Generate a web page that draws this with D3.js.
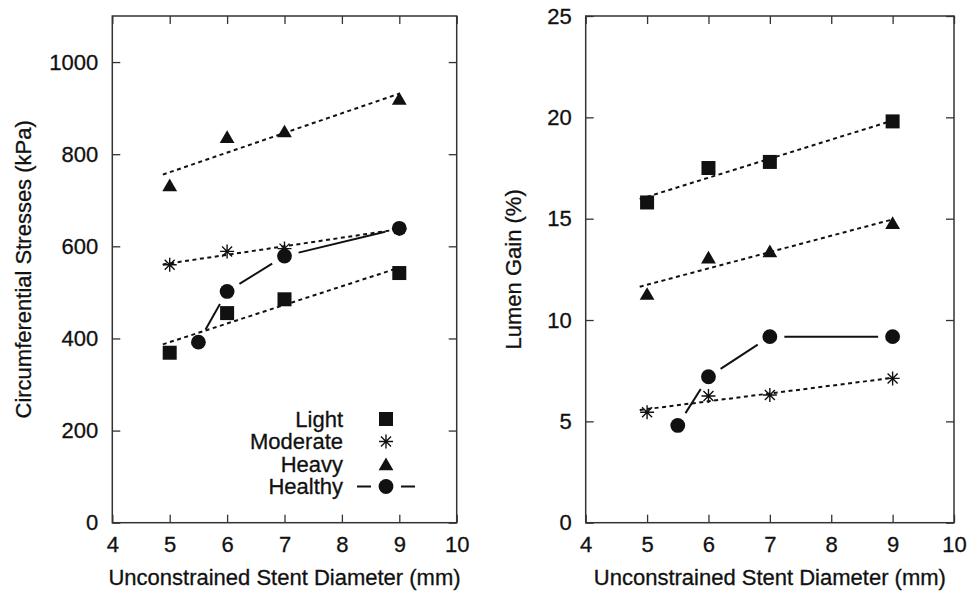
<!DOCTYPE html>
<html>
<head>
<meta charset="utf-8">
<script src="https://cdn.jsdelivr.net/npm/d3@7"></script>
<style>
  body { margin: 0; background: white; }
  svg { display: block; font-family: "Liberation Sans", Arial, Helvetica, sans-serif; }
  text { stroke: #111; stroke-width: 0.3px; }
</style>
</head>
<body>
<svg id="chart"></svg>
<script>
// stent diameters (mm)
var diameters = [5, 6, 7, 9];
var healthyDiameters = [5.5, 6, 7, 9];
var xTicks = [4, 5, 6, 7, 8, 9, 10];

// left panel: circumferential stresses (kPa)
var stressLight = [369, 455, 485, 542];
var stressModerate = [560, 589, 595, 638];
var stressHeavy = [733, 838, 850, 921];
var stressHealthy = [392, 502, 579, 639];
var stressTicks = [0, 200, 400, 600, 800, 1000];

// right panel: lumen gain (%)
var gainLight = [15.8, 17.5, 17.8, 19.8];
var gainModerate = [5.45, 6.25, 6.3, 7.12];
var gainHeavy = [11.3, 13.1, 13.4, 14.8];
var gainHealthy = [4.8, 7.2, 9.18, 9.18];
var gainTicks = [0, 5, 10, 15, 20, 25];

var legendLabels = ["Light", "Moderate", "Heavy", "Healthy"];

const width = 971, height = 593;
const ink = "#111";

var svg = d3.select("#chart")
  .attr("width", width)
  .attr("height", height)
  .attr("viewBox", [0, 0, width, height]);

// marker shapes, all drawn around (0,0)
function drawMarker(g, type) {
  if (type == "Light") {
    g.append("rect").attr("x", -7).attr("y", -7).attr("width", 14).attr("height", 14).attr("fill", ink);
  } else if (type == "Heavy") {
    g.append("path").attr("d", "M0,-6.5L7.4,6.2L-7.4,6.2Z").attr("fill", ink);
  } else if (type == "Healthy") {
    g.append("circle").attr("r", 7.4).attr("fill", ink);
  } else {
    g.append("path")
      .attr("d", "M-7,0H7M0,-7V7M-5,-5L5,5M-5,5L5,-5")
      .attr("stroke", ink)
      .attr("stroke-width", 1.4)
      .attr("fill", "none");
  }
}

function fitLine(xv, yv) {
  var mx = d3.mean(xv), my = d3.mean(yv);
  var sxy = d3.sum(xv, (x, i) => (x - mx) * (yv[i] - my));
  var sxx = d3.sum(xv, x => (x - mx) * (x - mx));
  var slope = sxy / sxx;
  return x => my + slope * (x - mx);
}

function panel(opts) {
  var x = d3.scaleLinear().domain([4, 10]).range([opts.left, opts.right]);
  var y = d3.scaleLinear().domain([0, opts.ymax]).range([opts.bottom, opts.top]);
  var g = svg.append("g");

  // tick labels and inward ticks on all four sides
  var axes = [
    [d3.axisBottom(x).tickValues(xTicks), "translate(0," + opts.bottom + ")", true],
    [d3.axisTop(x).tickValues(xTicks), "translate(0," + opts.top + ")", false],
    [d3.axisLeft(y).tickValues(opts.yTicks), "translate(" + opts.left + ",0)", true],
    [d3.axisRight(y).tickValues(opts.yTicks), "translate(" + opts.right + ",0)", false]
  ];
  axes.forEach(function([axis, tr, labels]) {
    var a = g.append("g")
      .attr("transform", tr)
      .call(axis.tickSizeInner(-8).tickSizeOuter(0).tickPadding(labels ? 14 : 0));
    a.select(".domain").remove();
    a.selectAll("line").attr("stroke", "#333").attr("stroke-width", 1.3);
    a.selectAll("text")
      .attr("fill", ink)
      .style("font-size", "22px")
      .text(labels ? (d => d) : "");
  });

  g.append("rect")
    .attr("x", opts.left).attr("y", opts.top)
    .attr("width", opts.right - opts.left).attr("height", opts.bottom - opts.top)
    .attr("fill", "none").attr("stroke", "#333").attr("stroke-width", 1.5);

  g.append("text")
    .attr("x", (opts.left + opts.right) / 2)
    .attr("y", 585)
    .attr("text-anchor", "middle")
    .attr("fill", ink)
    .style("font-size", "22px")
    .text("Unconstrained Stent Diameter (mm)");

  g.append("text")
    .attr("transform", "translate(" + opts.titleX + "," + (opts.top + opts.bottom) / 2 + ") rotate(-90)")
    .attr("text-anchor", "middle")
    .attr("dy", "0.35em")
    .attr("fill", ink)
    .style("font-size", "22px")
    .text(opts.title);

  // dotted least-squares lines for the diseased groups
  var fitDomain = [4.88, 9];
  [opts.light, opts.moderate, opts.heavy].forEach(function(vals) {
    var f = fitLine(diameters, vals);
    g.append("path")
      .datum(fitDomain)
      .attr("d", d3.line().x(d => x(d)).y(d => y(f(d))))
      .attr("stroke", ink)
      .attr("stroke-width", 2)
      .attr("stroke-dasharray", "4,3.5")
      .attr("fill", "none");
  });

  // healthy: solid segments that stop short of each marker
  var gap = 14.5;
  d3.pairs(d3.zip(healthyDiameters, opts.healthy)).forEach(function([a, b]) {
    var x1 = x(a[0]), y1 = y(a[1]), x2 = x(b[0]), y2 = y(b[1]);
    var len = Math.hypot(x2 - x1, y2 - y1);
    var ux = (x2 - x1) / len, uy = (y2 - y1) / len;
    g.append("line")
      .attr("x1", x1 + ux * gap).attr("y1", y1 + uy * gap)
      .attr("x2", x2 - ux * gap).attr("y2", y2 - uy * gap)
      .attr("stroke", ink)
      .attr("stroke-width", 2);
  });

  var series = [
    ["Light", diameters, opts.light],
    ["Moderate", diameters, opts.moderate],
    ["Heavy", diameters, opts.heavy],
    ["Healthy", healthyDiameters, opts.healthy]
  ];
  series.forEach(function([name, xv, yv]) {
    xv.forEach(function(d, i) {
      var m = g.append("g").attr("transform", "translate(" + x(d) + "," + y(yv[i]) + ")");
      drawMarker(m, name);
    });
  });

  return g;
}

var left = panel({
  left: 112.3, right: 456.7, top: 16, bottom: 522.7,
  ymax: 1100, yTicks: stressTicks, titleX: 23,
  title: "Circumferential Stresses (kPa)",
  light: stressLight, moderate: stressModerate, heavy: stressHeavy, healthy: stressHealthy
});

panel({
  left: 585.7, right: 954, top: 16, bottom: 522.7,
  ymax: 25, yTicks: gainTicks, titleX: 513,
  title: "Lumen Gain (%)",
  light: gainLight, moderate: gainModerate, heavy: gainHeavy, healthy: gainHealthy
});

// legend inside the left panel
var legend = left.append("g").attr("transform", "translate(0,419)");
legendLabels.forEach(function(name, i) {
  var row = legend.append("g").attr("transform", "translate(0," + i * 22.5 + ")");
  row.append("text")
    .attr("x", 343)
    .attr("dy", "0.35em")
    .attr("text-anchor", "end")
    .attr("fill", ink)
    .style("font-size", "22px")
    .text(name);
  if (name == "Healthy") {
    row.append("path")
      .attr("d", "M357,0H371M401,0H415")
      .attr("stroke", ink)
      .attr("stroke-width", 2);
  }
  drawMarker(row.append("g").attr("transform", "translate(386,0)"), name);
});
</script>
</body>
</html>
